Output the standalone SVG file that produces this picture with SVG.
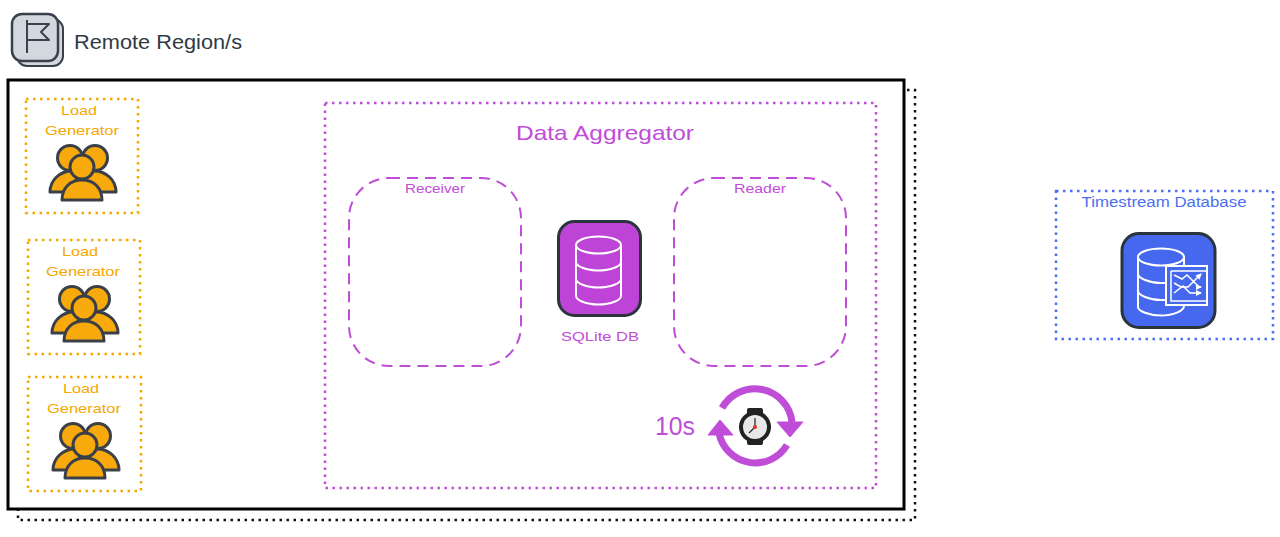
<svg xmlns="http://www.w3.org/2000/svg" width="1280" height="537" viewBox="0 0 1280 537">
<style>
text{font-family:"Liberation Sans","Noto Sans",sans-serif}
.o{fill:none;stroke:#f5a800;stroke-width:2.500;stroke-dasharray:2.500 4.500}
.ot{fill:#f5a800;font-size:13px;text-anchor:middle}
.p{fill:#bf4dd8;font-size:13px;text-anchor:middle}
.pd{fill:none;stroke:#bf4dd8;stroke-width:2.500;stroke-dasharray:2.500 4.500}
.pl{fill:none;stroke:#bf4dd8;stroke-width:2;stroke-dasharray:11 7}
.w{fill:none;stroke:#fff;stroke-width:2}
.u{fill:#f8a90b;stroke:#3b4048;stroke-width:3;stroke-linejoin:round}
</style>
<defs>
<marker id="ah" viewBox="0 0 6 6" refX="5" refY="3" markerWidth="4" markerHeight="4" orient="auto"><path d="M0 0L6 3L0 6Z" fill="#fff"/></marker>
<g id="users">
<circle class="u" cx="70" cy="158" r="12.500"/>
<circle class="u" cx="95" cy="158" r="12.500"/>
<path class="u" d="M50 192C50 180 60 171 72 171C84 171 94 180 94 192Z"/>
<path class="u" d="M72 192C72 180 82 171 94 171C106 171 116 180 116 192Z"/>
<path class="u" d="M62 200C62 188 70 180 82 180C94 180 102 188 102 200Z"/>
<circle class="u" cx="82" cy="167" r="12"/>
</g>
</defs>
<g id="remote-region">
<rect x="17" y="19" width="46" height="47" rx="10" fill="#d3d8df" stroke="#39424c" stroke-width="2"/>
<rect x="12" y="14" width="46" height="47" rx="10" fill="#d3d8df" stroke="#39424c" stroke-width="2.500"/>
<path d="M27 53V20M27 24H49L41 32L49 40H27" fill="none" stroke="#39424c" stroke-width="2" stroke-linejoin="round"/>
<text x="74" y="49" font-size="21" fill="#2f3a44" textLength="168" lengthAdjust="spacingAndGlyphs">Remote Region/s</text>
</g>
<g id="region-frame">
<rect x="18" y="90" width="897" height="430" fill="none" stroke="#111" stroke-width="2.500" stroke-dasharray="2.500 4.500"/>
<rect x="8" y="80" width="896" height="429" fill="#fff" stroke="#000" stroke-width="3"/>
</g>
<g id="load-generator-1">
<rect class="o" x="26" y="99" width="112" height="114"/>
<text class="ot" x="79" y="115" textLength="36" lengthAdjust="spacingAndGlyphs">Load</text>
<text class="ot" x="82" y="135" textLength="74" lengthAdjust="spacingAndGlyphs">Generator</text>
<use href="#users"/>
</g>
<g id="load-generator-2">
<rect class="o" x="28" y="240" width="112" height="114"/>
<text class="ot" x="80" y="256" textLength="36" lengthAdjust="spacingAndGlyphs">Load</text>
<text class="ot" x="83" y="276" textLength="74" lengthAdjust="spacingAndGlyphs">Generator</text>
<use href="#users" x="2" y="141"/>
</g>
<g id="load-generator-3">
<rect class="o" x="28" y="377" width="113" height="114"/>
<text class="ot" x="81" y="393" textLength="36" lengthAdjust="spacingAndGlyphs">Load</text>
<text class="ot" x="84" y="413" textLength="74" lengthAdjust="spacingAndGlyphs">Generator</text>
<use href="#users" x="3" y="278"/>
</g>
<g id="data-aggregator">
<rect class="pd" x="325" y="103" width="551" height="385"/>
<text x="605" y="140" font-size="21" fill="#bf4dd8" text-anchor="middle" textLength="178" lengthAdjust="spacingAndGlyphs">Data Aggregator</text>
</g>
<g id="receiver">
<rect class="pl" x="349" y="178" width="172" height="188" rx="40"/>
<text class="p" x="435" y="193" textLength="60" lengthAdjust="spacingAndGlyphs">Receiver</text>
</g>
<g id="reader">
<rect class="pl" x="674" y="178" width="172" height="188" rx="40"/>
<text class="p" x="760" y="193" textLength="52" lengthAdjust="spacingAndGlyphs">Reader</text>
</g>
<g id="sqlite-db">
<rect x="558.500" y="221.500" width="82" height="94" rx="16" fill="#bd44d6" stroke="#29343b" stroke-width="3"/>
<ellipse class="w" cx="598.500" cy="245" rx="22.500" ry="8.500"/>
<path class="w" d="M576 245V296C576 300 586 304.500 598.500 304.500C611 304.500 621 300 621 296V245M576 262C576 266 586 270.500 598.500 270.500C611 270.500 621 266 621 262M576 279C576 283 586 287.500 598.500 287.500C611 287.500 621 283 621 279"/>
<text class="p" x="600" y="341" font-size="14" textLength="78" lengthAdjust="spacingAndGlyphs">SQLite DB</text>
</g>
<g id="timer">
<text x="675" y="435" font-size="26" fill="#bf4dd8" text-anchor="middle" textLength="40" lengthAdjust="spacingAndGlyphs">10s</text>
<path d="M722 408A37.500 37.500 0 0 1 792 422" fill="none" stroke="#bf4dd8" stroke-width="7"/>
<path d="M787 445A37 37 0 0 1 719 433" fill="none" stroke="#bf4dd8" stroke-width="7"/>
<path d="M777 422H803L790 437Z" fill="#bf4dd8" stroke="#bf4dd8" stroke-linejoin="round"/>
<path d="M708 435H733L720 420Z" fill="#bf4dd8" stroke="#bf4dd8" stroke-linejoin="round"/>
<rect x="747" y="408" width="16" height="9" rx="2" fill="#222"/>
<rect x="747" y="436" width="16" height="9" rx="2" fill="#222"/>
<circle cx="755" cy="427" r="16" fill="#222"/>
<circle cx="755" cy="427" r="12" fill="#e8e8e8"/>
<path d="M755 427V418M755 427L749 433" stroke="#222" stroke-width="1.200"/>
<circle cx="755" cy="427" r="2" fill="#e8301c"/>
</g>
<g id="timestream-database">
<rect x="1056" y="191" width="217" height="148" fill="none" stroke="#4a6ff0" stroke-width="2.500" stroke-dasharray="2.500 4.500"/>
<text x="1164" y="207" font-size="14" fill="#4a6ff0" text-anchor="middle" textLength="165" lengthAdjust="spacingAndGlyphs">Timestream Database</text>
<rect x="1122" y="233.500" width="93" height="94" rx="17" fill="#4568ee" stroke="#29343b" stroke-width="3"/>
<ellipse class="w" cx="1161" cy="257" rx="23" ry="8.500"/>
<path class="w" d="M1138 257V307C1138 311 1149 315.500 1161 315.500C1173 315.500 1184 311 1184 306M1184 257V266M1138 274C1138 278 1149 283 1161 283H1166M1138 291C1138 295 1149 300 1161 300H1166"/>
<rect x="1166" y="266" width="41" height="39" fill="#4568ee" stroke="#fff" stroke-width="2"/>
<path d="M1171 271V301H1207M1171 271H1207" fill="none" stroke="#fff" stroke-width="1.500"/>
<path d="M1174 275L1182 279L1187 275L1199 287L1201 287" fill="none" stroke="#fff" stroke-width="1.500" marker-end="url(#ah)"/>
<path d="M1174 293L1183 286L1190 293H1201" fill="none" stroke="#fff" stroke-width="1.500" marker-end="url(#ah)"/>
<path d="M1174 283L1181 287H1188L1201 274" fill="none" stroke="#fff" stroke-width="1.500" marker-end="url(#ah)"/>
</g>
</svg>
